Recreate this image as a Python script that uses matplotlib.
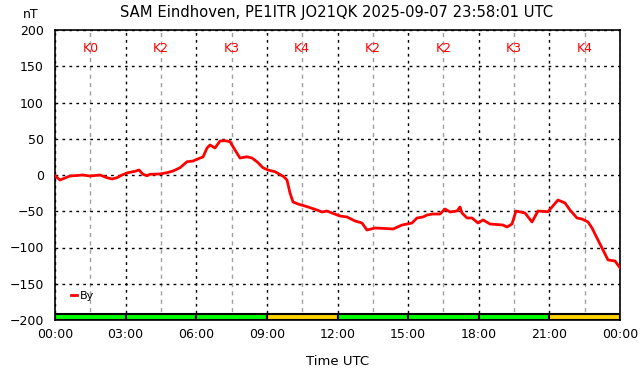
import matplotlib
matplotlib.use("Agg")
import matplotlib.pyplot as plt
from matplotlib.ticker import MultipleLocator, FixedLocator

# Data: time (hours UTC) and By (nT)
hours = [0, 0.212, 0.425, 0.637, 1.189, 1.487, 1.911, 2.209, 2.421, 2.634, 2.846,
         3.101, 3.398, 3.568, 3.738, 3.908, 4.035, 4.460, 4.758, 5.013, 5.310,
         5.607, 5.862, 6.159, 6.287, 6.457, 6.584, 6.796, 7.009, 7.221, 7.434,
         7.646, 7.858, 8.156, 8.368, 8.581, 8.835, 9.048, 9.345, 9.642, 9.685,
         9.855, 9.982, 10.110, 10.322, 10.619, 10.747, 11.129, 11.341, 11.554,
         11.766, 12.106, 12.403, 12.743, 13.040, 13.252, 13.593, 14.145, 14.357,
         14.740, 14.952, 15.164, 15.377, 15.632, 15.802, 16.057, 16.354, 16.566,
         16.779, 17.076, 17.204, 17.288, 17.501, 17.713, 17.968, 18.180, 18.478,
         19.030, 19.200, 19.412, 19.582, 19.965, 20.262, 20.517, 20.942, 21.366,
         21.663, 21.876, 22.173, 22.386, 22.641, 22.811, 23.023, 23.236, 23.491,
         23.788, 24.0]
by_nT = [-1, -6.9, -4.1, -1.4, 0, -1.4, 0, -3.7, -5.5, -3.7, 0,
         3.2, 5.1, 6.9, 1, -1, 1, 1.4, 3.2, 5.5, 10,
         18.3, 19.3, 23.4, 24.8, 37.2, 41.4, 37.2, 46.9, 47.3, 46,
         34.5, 23.4, 25.2, 23.4, 18.3, 10, 6.9, 4.6, -1, -1.4,
         -6.9, -24.8, -37.2, -40, -42.8, -44.1, -48.3, -51, -49.7,
         -52.4, -56.6, -57.9, -63.4, -66.2, -75.9, -73.1, -74, -74.5,
         -69, -67.6, -66.2, -59.3, -57.9, -55.2, -53.8, -53.8, -46.9,
         -51, -49.7, -44.1, -52.4, -59.3, -59.3, -66.2, -62, -67.6,
         -69, -71.7, -67.6, -49.7, -52.4, -64.8, -49.7, -50.6, -34.5,
         -38.6, -48.3, -59.3, -60.7, -64.8, -73.1, -86.9, -100.7, -117.2,
         -118.6, -128]

k_index = [0, 2, 3, 4, 2, 2, 3, 4]
k_labels = ["K0", "K2", "K3", "K4", "K2", "K2", "K3", "K4"]
xtick_labels = ["00:00", "03:00", "06:00", "09:00", "12:00", "15:00", "18:00", "21:00", "00:00"]
title = "SAM Eindhoven, PE1ITR JO21QK 2025-09-07 23:58:01 UTC"

W, H = 642, 376
fig = plt.figure(figsize=(W / 100, H / 100), dpi=100)
ax = fig.add_axes([55 / W, (H - 320) / H, 565 / W, 290 / H])

ax.set_xlim(0, 24)
ax.set_ylim(-200, 200)

# grids
ax.xaxis.set_major_locator(MultipleLocator(3))
ax.xaxis.set_minor_locator(FixedLocator([1.5 + 3 * i for i in range(8)]))
ax.yaxis.set_major_locator(MultipleLocator(50))
ax.grid(which="major", axis="both", color="black", linestyle=(0, (2, 3)), linewidth=1.0)
ax.grid(which="minor", axis="x", color="#a0a0a0", linestyle=(0, (3, 3)), linewidth=1.0)
ax.set_axisbelow(True)

# K-index bars
for i, k in enumerate(k_index):
    color = "#00ff00" if k < 4 else "#ffd200"
    ax.bar(3 * i + 1.5, 8, bottom=-200, width=3, color=color,
           edgecolor="black", linewidth=1.5, zorder=2)
    ax.text(3 * i + 1.5, 174, k_labels[i], color="#ff0000", fontsize=9,
            ha="center", va="center", zorder=3)

ax.plot(hours, by_nT, color="#ff0000", linewidth=2.0, label="By", zorder=4)

ax.set_xticks(range(0, 25, 3))
ax.set_xticklabels(xtick_labels)
ax.tick_params(which="both", length=0, labelsize=9, colors="black", pad=6)
ax.tick_params(axis="y", pad=8)
for s in ax.spines.values():
    s.set_linewidth(1.2)

ax.set_xlabel("Time UTC", fontsize=9.5, labelpad=10)
fig.text(31 / W, 1 - 15 / H, "nT", fontsize=9, ha="center", va="center")
fig.text(337 / W, 1 - 12 / H, title, fontsize=10.6, ha="center", va="center")

leg = ax.legend(loc="center left", bbox_to_anchor=(0.02, 0.083), frameon=False,
                handlelength=0.6, handletextpad=0.2, fontsize=8, borderaxespad=0)

fig.savefig("out.png", dpi=100)
